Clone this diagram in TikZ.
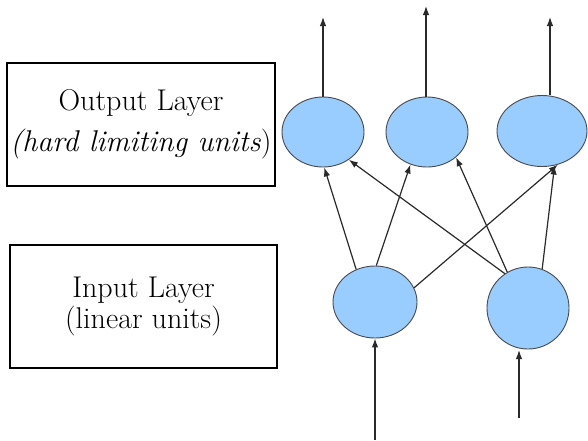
\documentclass[tikz,border=0pt]{standalone}
\usepackage{fontspec}
\usetikzlibrary{shapes.geometric,arrows.meta}
\definecolor{neuronfill}{HTML}{99CCFF}
\definecolor{edgegray}{HTML}{2A2A2A}
\begin{document}
\begin{tikzpicture}[x=1pt,y=-1pt,
  layerbox/.style={draw=black,line width=2.4pt,inner sep=0pt,align=center,
    font=\rmfamily\fontsize{30}{31}\selectfont},
  neuron/.style={ellipse,draw=edgegray!85,line width=0.9pt,fill=neuronfill,inner sep=0pt},
  link/.style={draw=edgegray,line width=1.2pt,-{Latex[length=9pt,width=6.5pt]}}]
\useasboundingbox (0,0) rectangle (588,440);

\node[layerbox,minimum width=268,minimum height=123] (obox) at (141,124.5)
  {Output Layer\\[10pt]\textit{(hard limiting units})};
\node[layerbox,minimum width=267,minimum height=123] (ibox) at (143.5,306.5)
  {Input Layer\\(linear units)};

\node[neuron,minimum width=82,minimum height=70] (o1) at (323,132) {};
\node[neuron,minimum width=82,minimum height=70] (o2) at (427,132) {};
\node[neuron,minimum width=90,minimum height=71] (o3) at (542,131) {};
\node[neuron,minimum width=84,minimum height=72] (a) at (375,302) {};
\node[neuron,minimum width=82,minimum height=82] (b) at (528,308) {};

\coordinate (t1) at (323,17);
\coordinate (t2) at (426,6);
\coordinate (t3) at (550,17);
\coordinate (sa) at (375,440);
\coordinate (sb) at (519,418);

\draw[link] (t1 |- o1.north) -- (t1);
\draw[link] (t2 |- o2.north) -- (t2);
\draw[link] (t3 |- o3.north) -- (t3);

\draw[link] (sa) -- (sa |- a.south);
\draw[link] (sb) -- (519,350);

\draw[link] (a.120) -- (o1.272);
\draw[link] (a.88) -- (o2.243);
\draw[link] (a.20) -- (o3.295);
\draw[link] (b.124) -- (o1.313);
\draw[link] (b.120) -- (o2.319);
\draw[link] (b.70) -- (o3.290);
\end{tikzpicture}
\end{document}
